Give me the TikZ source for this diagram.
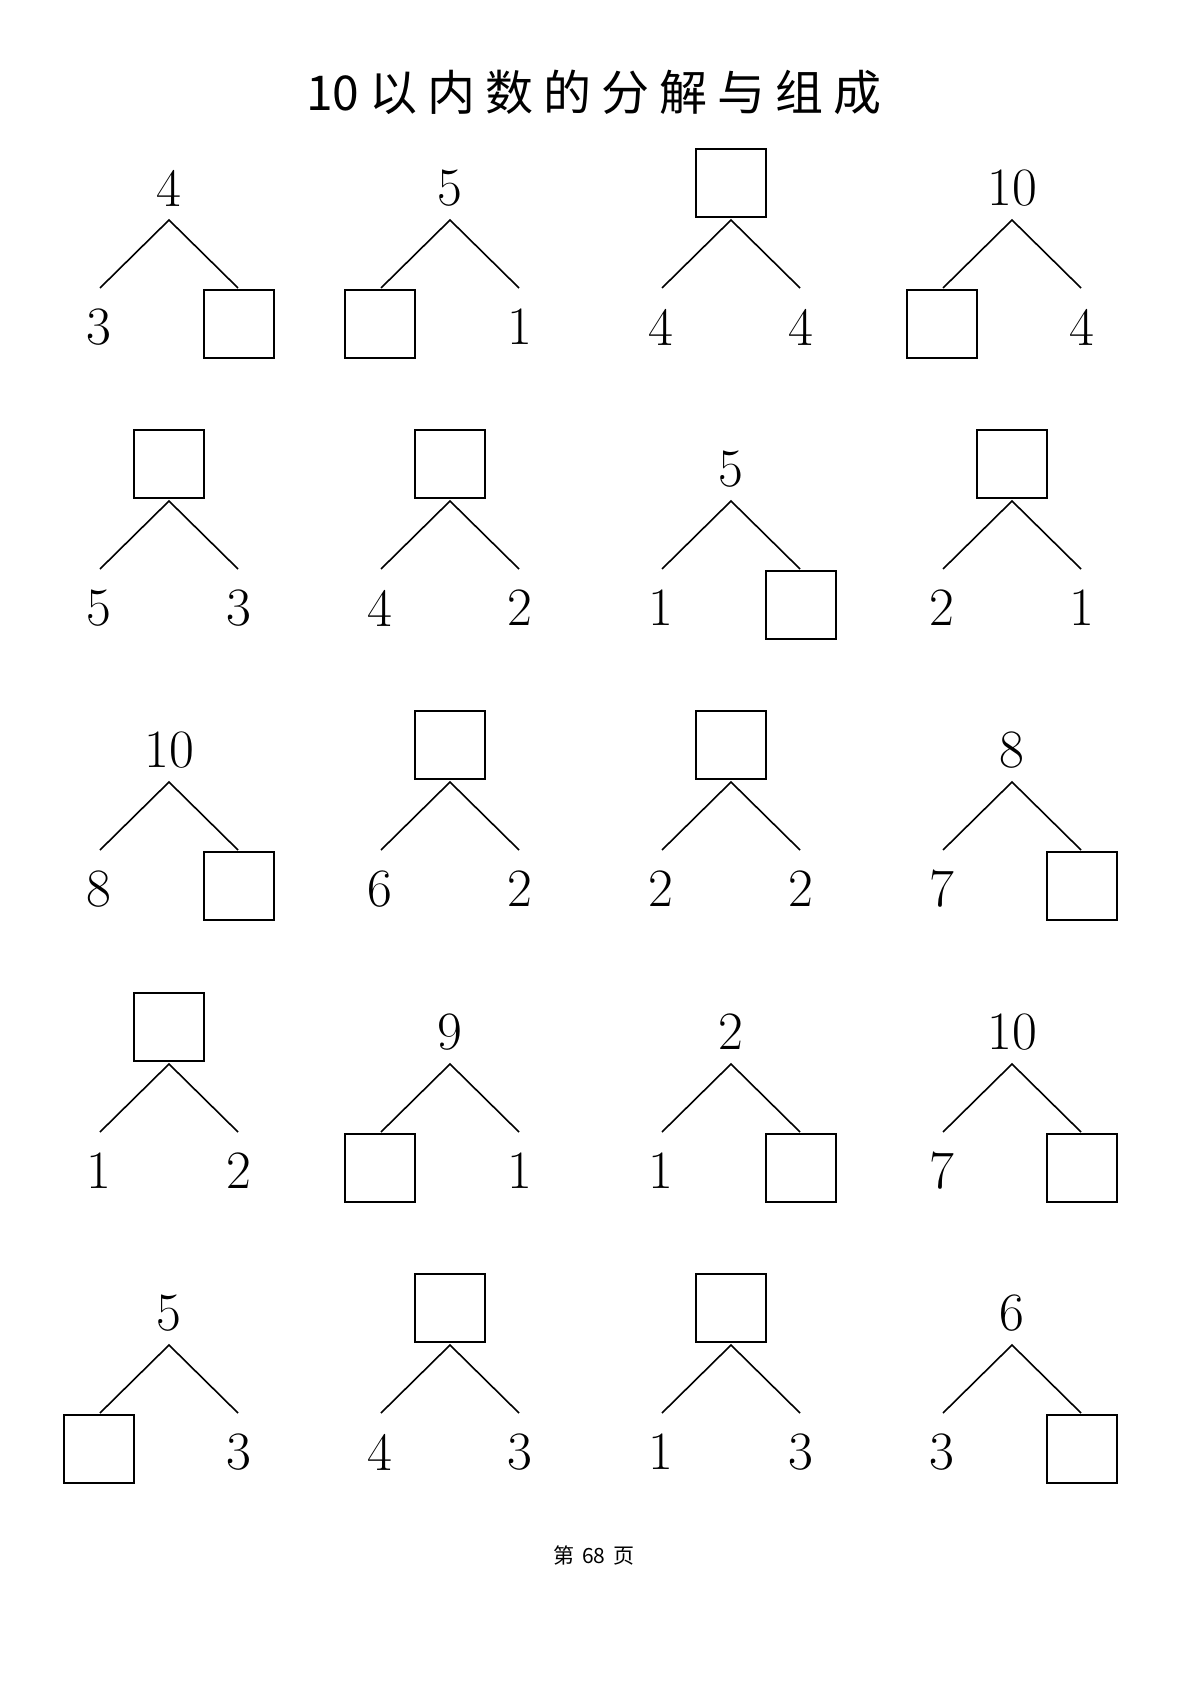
\documentclass[tikz,border=0pt]{standalone}
\usepackage{fontspec}
\newfontfamily\cjk[LetterSpace=21]{Noto Sans CJK SC}
\newfontfamily\cjkplain{Noto Sans CJK SC}
\tikzset{
  num/.style={font=\fontsize{27}{32}\selectfont, inner sep=0pt},
  blank/.style={draw, line width=0.8pt, minimum width=35pt, minimum height=34pt, inner sep=0pt},
  leg/.style={draw=black, line width=0.8pt},
  topnum/.style={num, yshift=16pt},
  topbox/.style={blank, anchor=south, yshift=1pt},
  leftnum/.style={num, xshift=-35pt, yshift=-53.5pt},
  leftbox/.style={blank, anchor=north, xshift=-35pt, yshift=-34.5pt},
  rightnum/.style={num, xshift=35pt, yshift=-53.5pt},
  rightbox/.style={blank, anchor=north, xshift=35pt, yshift=-34.5pt}
}
\begin{document}
\begin{tikzpicture}[x=0.5pt, y=-0.5pt]
  \useasboundingbox (0,0) rectangle (1191,1684);
  \node (title) at (594,92) {\fontsize{24}{28}\selectfont{\cjkplain 10}\hspace{5pt}{\cjk 以内数的分解与组成}};
  % name/x/y/top/left/right
  \foreach \n/\x/\y/\ts/\tt/\ls/\lt/\rs/\rt in {
      a1/169/220/num/4/num/3/box/{},
      a2/450/220/num/5/box/{}/num/1,
      a3/731/220/box/{}/num/4/num/4,
      a4/1012/220/num/10/box/{}/num/4,
      b1/169/501/box/{}/num/5/num/3,
      b2/450/501/box/{}/num/4/num/2,
      b3/731/501/num/5/num/1/box/{},
      b4/1012/501/box/{}/num/2/num/1,
      c1/169/782/num/10/num/8/box/{},
      c2/450/782/box/{}/num/6/num/2,
      c3/731/782/box/{}/num/2/num/2,
      c4/1012/782/num/8/num/7/box/{},
      d1/169/1064/box/{}/num/1/num/2,
      d2/450/1064/num/9/box/{}/num/1,
      d3/731/1064/num/2/num/1/box/{},
      d4/1012/1064/num/10/num/7/box/{},
      e1/169/1345/num/5/box/{}/num/3,
      e2/450/1345/box/{}/num/4/num/3,
      e3/731/1345/box/{}/num/1/num/3,
      e4/1012/1345/num/6/num/3/box/{}}
  {
    \coordinate (\n) at (\x,\y);
    \coordinate (\n-l) at (\x-69,\y+68);
    \coordinate (\n-r) at (\x+69,\y+68);
    \node[top\ts] (\n-top) at (\n) {\tt};
    \node[left\ls] (\n-left) at (\n) {\lt};
    \node[right\rs] (\n-right) at (\n) {\rt};
    \draw[leg] (\n-l) -- (\n) -- (\n-r);
  }
  \node (page) at (594,1555) {\cjkplain\fontsize{10.5}{12}\selectfont 第\hspace{4pt}68\hspace{4pt}页};
\end{tikzpicture}
\end{document}
